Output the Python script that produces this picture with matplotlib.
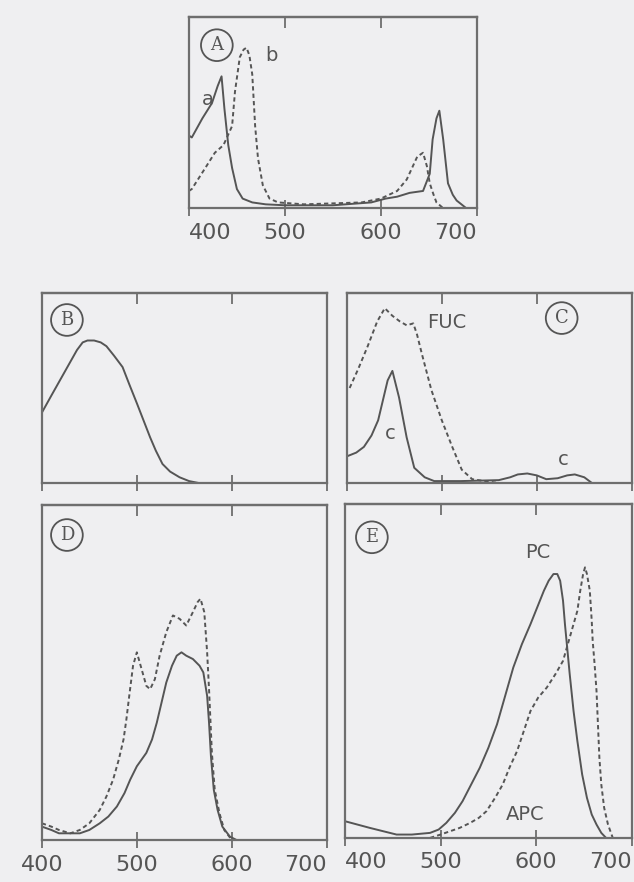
import matplotlib
matplotlib.use('Agg')
import matplotlib.pyplot as plt

# ---- data (relative absorbance, 0 = baseline, 1 = top of frame) ----
# A: chlorophyll a (solid) and chlorophyll b (dashed)
wl_chla = [400, 403, 414, 424, 430, 434, 437, 441, 445, 450, 456, 466, 480, 500, 550,
           590, 605, 617, 630, 644, 651, 654, 658, 661, 665, 670, 675, 679, 689, 700]
chla = [0.38, 0.37, 0.47, 0.55, 0.64, 0.69, 0.52, 0.33, 0.21, 0.10, 0.05, 0.03, 0.02, 0.015, 0.015,
        0.03, 0.05, 0.06, 0.08, 0.09, 0.18, 0.36, 0.47, 0.51, 0.36, 0.13, 0.07, 0.04, 0.0, 0.0]
wl_chlb = [400, 403, 417, 427, 436, 445, 448, 453, 457, 460, 463, 466, 469, 472, 477, 484, 493,
           520, 580, 600, 617, 627, 638, 644, 648, 651, 655, 658, 665]
chlb = [0.09, 0.10, 0.21, 0.29, 0.33, 0.43, 0.61, 0.79, 0.83, 0.84, 0.80, 0.70, 0.43, 0.26, 0.12, 0.05, 0.03,
        0.02, 0.03, 0.05, 0.09, 0.15, 0.27, 0.29, 0.22, 0.13, 0.07, 0.03, 0.0]

# B: single solid curve
wl_b = [400, 410, 419, 428, 437, 443, 448, 455, 462, 468, 476, 485, 492, 500,
        507, 514, 520, 527, 535, 545, 555, 565, 700]
spec_b = [0.37, 0.46, 0.54, 0.62, 0.70, 0.74, 0.75, 0.75, 0.74, 0.72, 0.67, 0.61, 0.52, 0.42,
          0.33, 0.24, 0.17, 0.10, 0.06, 0.03, 0.01, 0.0, 0.0]

# C: fucoxanthin (dashed) and chlorophyll c (solid)
wl_fuc = [403, 412, 422, 432, 440, 448, 456, 463, 470, 474, 479, 489, 500, 511, 521, 532, 545, 560]
fuc = [0.50, 0.60, 0.72, 0.85, 0.92, 0.88, 0.85, 0.83, 0.84, 0.78, 0.68, 0.49, 0.33, 0.19, 0.07, 0.02, 0.01, 0.0]
wl_chlc = [400, 410, 418, 426, 433, 443, 448, 455, 463, 471, 482, 492, 520, 560,
           572, 580, 590, 600, 610, 622, 632, 640, 650, 658, 700]
chlc = [0.14, 0.16, 0.19, 0.25, 0.33, 0.54, 0.59, 0.45, 0.24, 0.08, 0.03, 0.01, 0.01, 0.015,
        0.03, 0.045, 0.05, 0.04, 0.02, 0.025, 0.04, 0.045, 0.03, 0.0, 0.0]

# D: solid and dashed
wl_d1 = [400, 410, 418, 430, 440, 450, 461, 470, 479, 487, 493, 500, 505, 510, 516, 521,
         526, 531, 537, 542, 547, 552, 559, 566, 570, 574, 576, 578, 581, 585, 590, 598, 605]
d1 = [0.04, 0.03, 0.02, 0.02, 0.02, 0.03, 0.05, 0.07, 0.10, 0.14, 0.18, 0.22, 0.24, 0.26, 0.30, 0.35,
      0.41, 0.47, 0.52, 0.55, 0.56, 0.55, 0.54, 0.52, 0.50, 0.43, 0.35, 0.25, 0.15, 0.09, 0.04, 0.01, 0.0]
wl_d2 = [400, 410, 418, 430, 440, 450, 461, 468, 475, 481, 486, 489, 492, 496, 500, 505, 510,
         514, 519, 524, 531, 538, 545, 552, 559, 564, 567, 571, 574, 576, 579, 582, 587, 592, 600]
d2 = [0.05, 0.04, 0.03, 0.02, 0.03, 0.05, 0.09, 0.13, 0.18, 0.24, 0.30, 0.36, 0.43, 0.52, 0.56, 0.51, 0.46,
      0.45, 0.48, 0.55, 0.62, 0.67, 0.66, 0.64, 0.68, 0.71, 0.72, 0.68, 0.56, 0.45, 0.26, 0.15, 0.08, 0.03, 0.0]

# E: phycocyanin (solid) and allophycocyanin (dashed)
wl_pc = [400, 413, 426, 440, 454, 470, 489, 498, 506, 515, 523, 532, 541, 550, 559, 567, 576,
         585, 594, 601, 608, 613, 618, 622, 625, 628, 630, 635, 639, 643, 648, 653, 658, 663, 668, 673]
pc = [0.05, 0.04, 0.03, 0.02, 0.01, 0.01, 0.015, 0.025, 0.045, 0.075, 0.11, 0.16, 0.21, 0.27, 0.34, 0.42, 0.51,
      0.58, 0.64, 0.69, 0.74, 0.77, 0.79, 0.79, 0.77, 0.71, 0.64, 0.49, 0.38, 0.29, 0.19, 0.12, 0.07, 0.04, 0.015, 0.0]
wl_apc = [489, 500, 510, 520, 531, 540, 548, 557, 565, 572, 580, 587, 594, 602, 611, 620, 628, 635,
          640, 643, 646, 649, 651, 653, 656, 658, 659, 661, 663, 666, 668, 671, 675, 680]
apc = [0.0, 0.01, 0.02, 0.03, 0.045, 0.06, 0.08, 0.12, 0.16, 0.21, 0.26, 0.32, 0.38, 0.42, 0.45, 0.49, 0.53, 0.60,
       0.65, 0.68, 0.74, 0.79, 0.81, 0.79, 0.74, 0.65, 0.59, 0.52, 0.44, 0.24, 0.16, 0.09, 0.04, 0.0]

ticks = [400, 500, 600, 700]
top_ticks = [500, 600]

BG = '#efeff1'
INK = '#555555'
FRAME = '#6e6e6e'
DASH = (0, (2.2, 1.6))

fig = plt.figure(figsize=(6.34, 8.82), dpi=100)
fig.patch.set_facecolor(BG)


def make_axes(rect, show_labels, label_ha=None):
    ax = fig.add_axes(rect)
    ax.set_facecolor(BG)
    ax.set_xlim(400, 700)
    ax.set_ylim(0, 1)
    ax.set_yticks([])
    ax.set_xticks(ticks)
    for s in ax.spines.values():
        s.set_color(FRAME)
        s.set_linewidth(1.6)
    ax.tick_params(axis='x', direction='inout', length=11, width=1.3,
                   color=FRAME, top=False, bottom=True, pad=5,
                   labelsize=16, labelcolor=INK, labelbottom=show_labels)
    if show_labels and label_ha:
        for lab, ha in zip(ax.get_xticklabels(), label_ha):
            lab.set_horizontalalignment(ha)
    # inward ticks along the top edge
    top = ax.secondary_xaxis('top')
    top.set_xticks(top_ticks)
    top.tick_params(direction='in', length=8, width=1.3, color=FRAME, labeltop=False)
    top.spines['top'].set_color(FRAME)
    top.spines['top'].set_linewidth(1.6)
    return ax


def circled(ax, x, y, letter):
    ax.text(x, y, letter, transform=ax.transAxes, ha='center', va='center',
            fontsize=13, family='DejaVu Serif', color=INK,
            bbox=dict(boxstyle='circle,pad=0.38', fc='none', ec=INK, lw=1.3))


def label(ax, x, y, s, size=14):
    ax.text(x, y, s, transform=ax.transAxes, ha='center', va='center',
            fontsize=size, color=INK)


# Panel A
axA = make_axes([0.298, 0.764, 0.454, 0.2166], True, ['left', 'center', 'center', 'right'])
axA.plot(wl_chla, chla, color=INK, lw=1.4)
axA.plot(wl_chlb, chlb, color=INK, lw=1.4, ls=DASH)
circled(axA, 0.097, 0.853, 'A')
label(axA, 0.066, 0.57, 'a')
label(axA, 0.285, 0.80, 'b')

# Panel B
axB = make_axes([0.066, 0.4524, 0.4495, 0.2154], False)
axB.plot(wl_b, spec_b, color=INK, lw=1.4)
circled(axB, 0.088, 0.858, 'B')

# Panel C
axC = make_axes([0.547, 0.4524, 0.4495, 0.2154], False)
axC.plot(wl_fuc, fuc, color=INK, lw=1.4, ls=DASH)
axC.plot(wl_chlc, chlc, color=INK, lw=1.4)
circled(axC, 0.754, 0.868, 'C')
label(axC, 0.35, 0.847, 'FUC')
label(axC, 0.151, 0.263, 'c')
label(axC, 0.758, 0.121, 'c')

# Panel D
axD = make_axes([0.066, 0.0476, 0.4495, 0.380], True, ['center', 'center', 'center', 'right'])
axD.plot(wl_d1, d1, color=INK, lw=1.4)
axD.plot(wl_d2, d2, color=INK, lw=1.4, ls=DASH)
circled(axD, 0.088, 0.91, 'D')

# Panel E
axE = make_axes([0.544, 0.050, 0.4527, 0.3787], True, ['left', 'center', 'center', 'right'])
axE.plot(wl_pc, pc, color=INK, lw=1.4)
axE.plot(wl_apc, apc, color=INK, lw=1.4, ls=DASH)
circled(axE, 0.094, 0.90, 'E')
label(axE, 0.672, 0.853, 'PC')
label(axE, 0.627, 0.069, 'APC')

fig.savefig('out.png', dpi=100, facecolor=BG)
